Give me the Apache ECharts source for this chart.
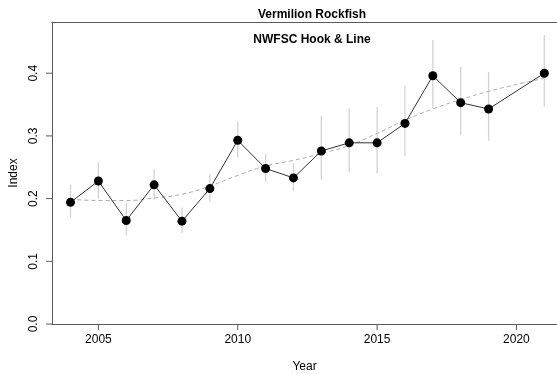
<!DOCTYPE html>
<html>
<head>
<meta charset="utf-8">
<script src="https://cdn.jsdelivr.net/npm/echarts@6/dist/echarts.min.js"></script>
<style>html,body{margin:0;padding:0;background:#fff;}#c{width:557px;height:374px;}</style>
</head>
<body>
<div id="c"></div>
<script>
const years = [2004,2005,2006,2007,2008,2009,2010,2011,2012,2013,2014,2015,2016,2017,2018,2019,2021];
const index = [0.194,0.228,0.165,0.222,0.164,0.216,0.293,0.248,0.233,0.276,0.289,0.289,0.320,0.396,0.353,0.343,0.400];
const lower = [0.170,0.200,0.141,0.198,0.145,0.195,0.266,0.227,0.212,0.230,0.242,0.240,0.268,0.344,0.301,0.292,0.347];
const upper = [0.222,0.258,0.193,0.247,0.186,0.239,0.323,0.272,0.256,0.332,0.344,0.346,0.380,0.453,0.410,0.402,0.461];
const trendYears = [2004,2005,2006,2007,2008,2009,2010,2011,2012,2013,2014,2015,2016,2017,2018,2019,2020,2021];
const trend = [0.199,0.197,0.197,0.201,0.207,0.220,0.237,0.252,0.261,0.272,0.285,0.304,0.325,0.343,0.358,0.371,0.382,0.392];
const xTicks = [2005,2010,2015,2020];
const yTicks = [0.0,0.1,0.2,0.3,0.4];

const font = '"Liberation Sans", Arial, sans-serif';
const axisCol = '#5a5a5a';
const X_MIN = 2003.336, X_MAX = 2021.455, Y_MIN = 0, Y_MAX = 0.4817;
const TICK = 6;
const chart = echarts.init(document.getElementById('c'), null, {renderer:'canvas'});
chart.setOption({
  animation:false,
  title:[
    {text:'Vermilion Rockfish', left:307, top:4, textAlign:'center',
     textStyle:{fontFamily:font, fontSize:12, fontWeight:'bold', color:'#000'}},
    {text:'NWFSC Hook & Line', left:307, top:29, textAlign:'center',
     textStyle:{fontFamily:font, fontSize:12, fontWeight:'bold', color:'#000'}}
  ],
  grid:{left:52, right:0, top:22, bottom:50, containLabel:false, outerBoundsMode:'none'},
  xAxis:[{
    type:'value', min:X_MIN, max:X_MAX,
    name:'Year', nameLocation:'middle', nameGap:37,
    nameTextStyle:{fontFamily:font, fontSize:12, color:'#000'},
    axisLine:{show:true, onZero:false, lineStyle:{color:axisCol, width:1}},
    axisTick:{show:false},
    axisLabel:{customValues:xTicks, margin:10, fontFamily:font, fontSize:12, color:'#000',
      formatter:v=>String(v)},
    splitLine:{show:false}
  },{
    type:'value', position:'top', min:X_MIN, max:X_MAX,
    axisLine:{show:true, onZero:false, lineStyle:{color:axisCol, width:1}},
    axisTick:{show:false}, axisLabel:{show:false}, splitLine:{show:false}
  }],
  yAxis:{
    type:'value', min:Y_MIN, max:Y_MAX,
    name:'Index', nameLocation:'middle', nameGap:28, nameRotate:90,
    nameTextStyle:{fontFamily:font, fontSize:12, color:'#000'},
    axisLine:{show:true, onZero:false, lineStyle:{color:axisCol, width:1}},
    axisTick:{show:false},
    axisLabel:{customValues:yTicks, rotate:90, margin:12, fontFamily:font, fontSize:12, color:'#000',
      formatter:v=>v.toFixed(1)},
    splitLine:{show:false}
  },
  series:[
    {
      type:'custom', xAxisIndex:0, z:5, clip:false, silent:true,
      data: xTicks.map(v=>[v]), encode:{x:0},
      renderItem:(params, api)=>{
        const p = api.coord([api.value(0), Y_MIN]);
        return {type:'line', shape:{x1:p[0], y1:p[1], x2:p[0], y2:p[1]+TICK},
          style:{stroke:axisCol, lineWidth:1}};
      }
    },
    {
      type:'custom', xAxisIndex:0, z:5, clip:false, silent:true,
      data: yTicks.map(v=>[X_MIN, v]), encode:{x:0, y:1},
      renderItem:(params, api)=>{
        const p = api.coord([X_MIN, api.value(1)]);
        return {type:'line', shape:{x1:p[0], y1:p[1], x2:p[0]-TICK, y2:p[1]},
          style:{stroke:axisCol, lineWidth:1}};
      }
    },
    {
      type:'custom', xAxisIndex:0, z:1,
      data: years.map((y,i)=>[y, lower[i], upper[i]]),
      renderItem:(params, api)=>{
        const p1 = api.coord([api.value(0), api.value(1)]);
        const p2 = api.coord([api.value(0), api.value(2)]);
        return {type:'line', shape:{x1:p1[0], y1:p1[1], x2:p2[0], y2:p2[1]},
          style:{stroke:'#d3d3d3', lineWidth:1.3}};
      }
    },
    {
      type:'line', xAxisIndex:0, z:2, smooth:true, symbol:'none',
      data: trendYears.map((y,i)=>[y, trend[i]]),
      lineStyle:{color:'#aaaaaa', width:1, type:[4,3]}
    },
    {
      type:'line', xAxisIndex:0, z:3, symbol:'circle', symbolSize:9,
      data: years.map((y,i)=>[y, index[i]]),
      lineStyle:{color:'#333', width:1},
      itemStyle:{color:'#000', borderWidth:0}
    }
  ]
});
</script>
</body>
</html>
